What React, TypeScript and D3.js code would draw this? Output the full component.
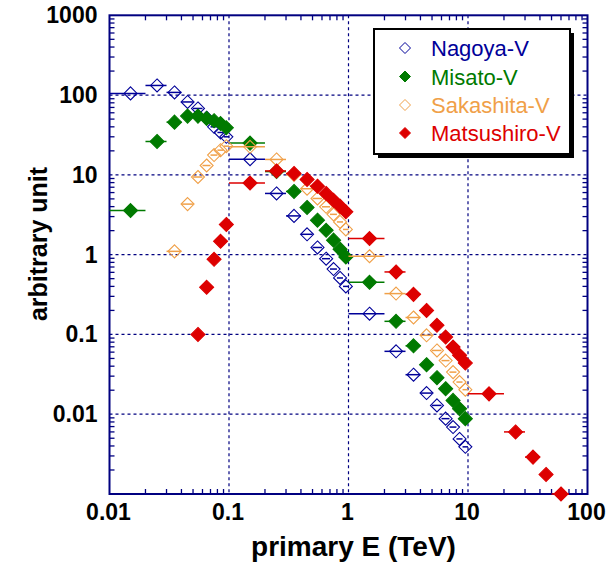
import React from "react";
import * as d3 from "d3";

// ---- data ----
const BIN_EDGES = [
  0.01, 0.02, 0.03, 0.04, 0.05, 0.06, 0.07, 0.08, 0.09, 0.1,
  0.2, 0.3, 0.4, 0.5, 0.6, 0.7, 0.8, 0.9, 1,
  2, 3, 4, 5, 6, 7, 8, 9, 10,
  20, 30, 40, 50, 70,
];

const NAGOYA = [
  105, 132, 108, 82, 68, 52, 40, 34, 30,
  15.7, 5.85, 3.06, 1.8, 1.23, 0.89, 0.66, 0.51, 0.4,
  0.182, 0.0614, 0.0313, 0.0184, 0.0129, 0.0088, 0.0069, 0.0049, 0.0039,
  null, null, null, null, null,
];
const MISATO = [
  3.57, 26.2, 45.8, 54.5, 54.5, 51, 47.7, 44, 38.9,
  25, 11, 6.2, 3.9, 2.7, 2.02, 1.52, 1.17, 0.935,
  0.45, 0.146, 0.072, 0.0418, 0.0287, 0.0209, 0.0149, 0.0117, 0.0088,
  null, null, null, null, null,
];
const SAKASHITA = [
  null, null, 1.1, 4.3, 9.4, 13.1, 17.7, 20.4, 22.9,
  22.5, 15.6, 10, 6.7, 5.06, 3.98, 3.2, 2.57, 2.07,
  0.955, 0.325, 0.163, 0.0975, 0.063, 0.047, 0.0337, 0.0253, 0.0203,
  null, null, null, null, null,
];
const MATSUSHIRO = [
  null, null, null, null, 0.1, 0.39, 0.875, 1.47, 2.39,
  7.9, 11.2, 10.4, 8.75, 7.2, 5.85, 4.8, 4.05, 3.44,
  1.59, 0.607, 0.318, 0.2, 0.13, 0.0927, 0.0695, 0.0547, 0.0438,
  0.018, 0.006, 0.0029, 0.00176, 0.001,
];

const SERIES_NAMES = ["Nagoya-V", "Misato-V", "Sakashita-V", "Matsushiro-V"];
const SERIES_VALUES = [NAGOYA, MISATO, SAKASHITA, MATSUSHIRO];
const SERIES_COLORS = ["#000099", "#007a00", "#f0a048", "#dd0000"];
const SERIES_FILLED = [false, true, false, true];

const X_TICKS = [0.01, 0.1, 1, 10, 100];
const X_TICK_LABELS = ["0.01", "0.1", "1", "10", "100"];
const Y_TICKS = [0.01, 0.1, 1, 10, 100, 1000];
const Y_TICK_LABELS = ["0.01", "0.1", "1", "10", "100", "1000"];

const X_TITLE = "primary E (TeV)";
const Y_TITLE = "arbitrary unit";

// ---- layout ----
const W = 613;
const H = 570;
const L = 109.5;
const R = 587.5;
const T = 15.3;
const B = 494;
const AXIS = "#000080";
const FONT = "'Liberation Sans', Arial, Helvetica, sans-serif";

export default function App() {
  const x = d3.scaleLog().domain([0.01, 100]).range([L, R]);
  const y = d3.scaleLog().domain([0.001, 1000]).range([B, T]);

  const minorX: number[] = [];
  for (let d = -2; d < 2; d++) for (let k = 2; k <= 9; k++) minorX.push(k * Math.pow(10, d));
  const minorY: number[] = [];
  for (let d = -3; d < 3; d++) for (let k = 2; k <= 9; k++) minorY.push(k * Math.pow(10, d));

  const gridX = X_TICKS.filter((v) => v > 0.01 && v < 100);
  const gridY = Y_TICKS.filter((v) => v > 0.001 && v < 1000);

  const diamond = (cx: number, cy: number, r: number) =>
    `M${cx},${cy - r}L${cx + r},${cy}L${cx},${cy + r}L${cx - r},${cy}Z`;

  const bins = d3.range(BIN_EDGES.length - 1).map((i) => ({
    lo: BIN_EDGES[i],
    hi: BIN_EDGES[i + 1],
    c: (BIN_EDGES[i] + BIN_EDGES[i + 1]) / 2,
  }));

  const legX = 374;
  const legY = 29;
  const legW = 196;
  const legH = 125;
  const legRows = [48, 76.5, 105, 133];

  return (
    <svg
      width={W}
      height={H}
      style={{ position: "absolute", left: 0, top: 0, background: "#fff" }}
      fontFamily={FONT}
    >
      <rect x={0} y={0} width={W} height={H} fill="#fff" />
      {/* grid */}
      {gridX.map((v) => (
        <line key={"gx" + v} x1={x(v)} x2={x(v)} y1={T} y2={B} stroke={AXIS} strokeWidth={1.2} strokeDasharray="3,3" />
      ))}
      {gridY.map((v) => (
        <line key={"gy" + v} x1={L} x2={R} y1={y(v)} y2={y(v)} stroke={AXIS} strokeWidth={1.2} strokeDasharray="3,3" />
      ))}
      {/* minor ticks */}
      {minorX.map((v) => (
        <g key={"mx" + v}>
          <line x1={x(v)} x2={x(v)} y1={B} y2={B - 5} stroke={AXIS} strokeWidth={1.3} />
          <line x1={x(v)} x2={x(v)} y1={T} y2={T + 5} stroke={AXIS} strokeWidth={1.3} />
        </g>
      ))}
      {minorY.map((v) => (
        <g key={"my" + v}>
          <line x1={L} x2={L + 5} y1={y(v)} y2={y(v)} stroke={AXIS} strokeWidth={1.3} />
          <line x1={R} x2={R - 5} y1={y(v)} y2={y(v)} stroke={AXIS} strokeWidth={1.3} />
        </g>
      ))}
      {/* frame */}
      <rect x={L} y={T} width={R - L} height={B - T} fill="none" stroke={AXIS} strokeWidth={2} />
      {/* tick labels */}
      {X_TICKS.map((v, i) => (
        <text key={"xl" + v} x={x(v) - 1} y={519.5} textAnchor="middle" fontSize={23} fontWeight="bold" fill="#000">
          {X_TICK_LABELS[i]}
        </text>
      ))}
      {Y_TICKS.map((v, i) => (
        <text key={"yl" + v} x={97.5} y={y(v) + 8} textAnchor="end" fontSize={23} fontWeight="bold" fill="#000">
          {Y_TICK_LABELS[i]}
        </text>
      ))}
      {/* axis titles */}
      <text x={353.5} y={556} textAnchor="middle" fontSize={28} fontWeight="bold" fill="#000">
        {X_TITLE}
      </text>
      <text
        transform={`translate(46.5,244) rotate(-90)`}
        textAnchor="middle"
        fontSize={25}
        fontWeight="bold"
        fill="#000"
      >
        {Y_TITLE}
      </text>
      {/* data */}
      {SERIES_VALUES.map((vals, si) => (
        <g key={"s" + si}>
          {vals.map((v, bi) =>
            v == null ? null : (
              <g key={bi}>
                <line
                  x1={x(bins[bi].lo)}
                  x2={x(bins[bi].hi)}
                  y1={y(v)}
                  y2={y(v)}
                  stroke={SERIES_COLORS[si]}
                  strokeWidth={1.5}
                />
                <path
                  d={diamond(x(bins[bi].c), y(v), SERIES_FILLED[si] ? 7 : 6.5)}
                  fill={SERIES_FILLED[si] ? SERIES_COLORS[si] : "none"}
                  stroke={SERIES_COLORS[si]}
                  strokeWidth={1.1}
                />
              </g>
            )
          )}
        </g>
      ))}
      {/* legend */}
      <rect x={legX + 4} y={legY + 4} width={legW} height={legH} fill="#000" />
      <rect x={legX} y={legY} width={legW} height={legH} fill="#fff" stroke="#000" strokeWidth={2} />
      {SERIES_NAMES.map((n, i) => (
        <g key={"lg" + n}>
          <path
            d={diamond(405, legRows[i], 5.5)}
            fill={SERIES_FILLED[i] ? SERIES_COLORS[i] : "none"}
            stroke={SERIES_COLORS[i]}
            strokeWidth={1}
          />
          <text x={431} y={legRows[i] + 8} fontSize={22} fill={SERIES_COLORS[i]}>
            {n}
          </text>
        </g>
      ))}
    </svg>
  );
}
